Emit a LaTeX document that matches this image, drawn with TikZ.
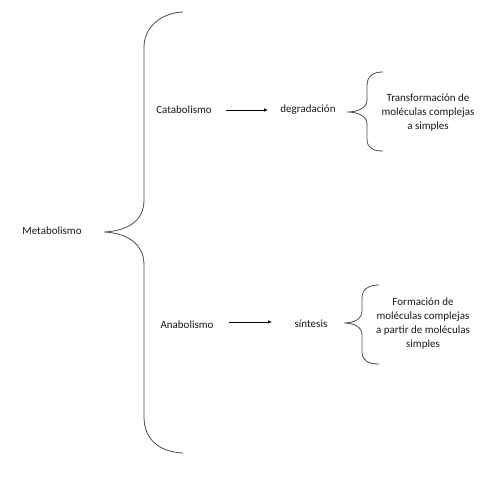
\documentclass[tikz,border=0pt]{standalone}
\usepackage{fontspec}
\setmainfont{Carlito}
\usetikzlibrary{arrows.meta}
\begin{document}
\begin{tikzpicture}[x=1pt,y=-1pt,
  lbl/.style={font=\fontsize{11}{14}\selectfont, text=black!90, inner sep=1pt, align=center},
  brace/.style={draw=black!70, line width=0.8pt},
  arr/.style={draw=black, line width=0.7pt, -{Latex[length=4pt,width=3.5pt]}}]
\useasboundingbox (0,0) rectangle (495,495);
\node[lbl] (meta) at (52,231) {Metabolismo};
\node[lbl] (cata) at (184,110) {Catabolismo};
\node[lbl] (degr) at (308,110) {degradación};
\node[lbl] (trans) at (428,113) {Transformación de\\moléculas complejas\\a simples};
\node[lbl] (ana) at (187,325) {Anabolismo};
\node[lbl] (sint) at (311,324) {síntesis};
\node[lbl] (form) at (423,324) {Formación de\\moléculas complejas\\a partir de moléculas\\simples};
% big brace
\coordinate (bt) at (183,12);
\coordinate (btip) at (104,232);
\coordinate (bb) at (183,453);
\draw[brace] (bt) .. controls (160,13) and (144,28) .. (144,47) -- (144,200)
  .. controls (144,222) and (126,231) .. (btip)
  .. controls (126,233) and (144,243) .. (144,265) -- (144,417)
  .. controls (144,440) and (160,452) .. (bb);
% small brace 1
\coordinate (s1t) at (383,72);
\coordinate (s1tip) at (347,112);
\coordinate (s1b) at (383,151);
\draw[brace] (s1t) .. controls (373,72) and (367,76) .. (367,86) -- (367,100)
  .. controls (367,108) and (358,112) .. (s1tip)
  .. controls (358,112) and (367,116) .. (367,124) -- (367,139)
  .. controls (367,148) and (373,151) .. (s1b);
% small brace 2
\coordinate (s2t) at (379,285);
\coordinate (s2tip) at (344,323);
\coordinate (s2b) at (379,364);
\draw[brace] (s2t) .. controls (369,285) and (362,289) .. (362,298) -- (362,311)
  .. controls (362,319) and (354,323) .. (s2tip)
  .. controls (354,323) and (362,327) .. (362,335) -- (362,352)
  .. controls (362,361) and (369,364) .. (s2b);
% arrows
\coordinate (a1s) at (226,110);
\coordinate (a1e) at (268,110);
\coordinate (a2s) at (229,322);
\coordinate (a2e) at (272,322);
\draw[arr] (a1s) -- (a1e);
\draw[arr] (a2s) -- (a2e);
\end{tikzpicture}
\end{document}
